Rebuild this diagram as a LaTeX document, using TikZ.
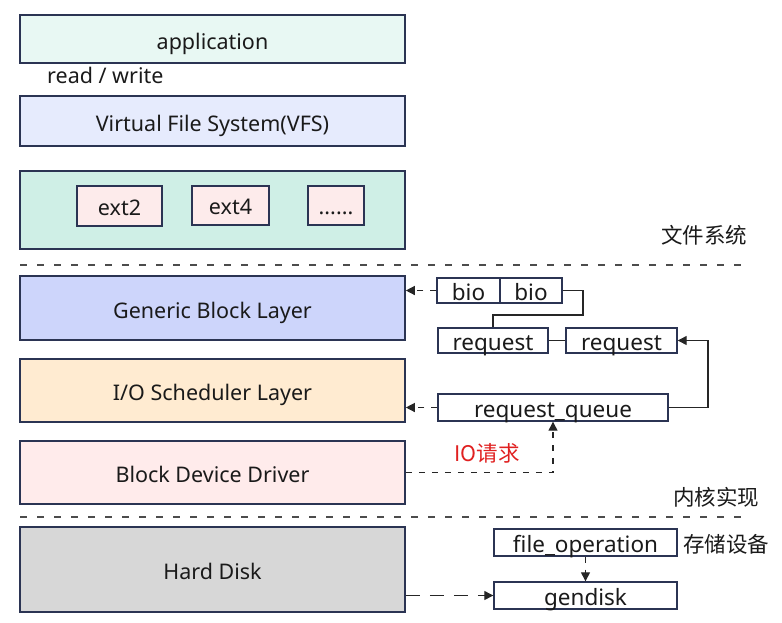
\documentclass[tikz,border=0pt]{standalone}
\usepackage{fontspec}
\setmainfont{Noto Sans}
\newfontfamily\cjk{Noto Sans CJK SC}
\usetikzlibrary{arrows.meta,calc}
\definecolor{edgec}{HTML}{2B3453}
\definecolor{appc}{HTML}{E8F8F3}
\definecolor{vfsc}{HTML}{E6EBFD}
\definecolor{fsc}{HTML}{CFEFE6}
\definecolor{extc}{HTML}{FDEBEB}
\definecolor{gblc}{HTML}{CDD5FB}
\definecolor{iosc}{HTML}{FFEBD1}
\definecolor{bddc}{HTML}{FFEBEB}
\definecolor{hdc}{HTML}{D7D7D7}
\definecolor{redc}{HTML}{E02020}
\definecolor{txtc}{HTML}{1A1A1A}
\tikzset{
  layer/.style={draw=edgec, line width=1.6pt, inner sep=0pt, minimum width=385pt, text=txtc,
    text height=20pt, text depth=0pt, font=\fontsize{21.5}{24}\selectfont},
  small/.style={draw=edgec, line width=1.4pt, inner sep=0pt, fill=white, text=txtc,
    text height=20pt, text depth=0pt, font=\fontsize{22.5}{25}\selectfont},
  extbox/.style={small, text height=18pt, font=\fontsize{21.5}{24}\selectfont},
  lbl/.style={inner sep=0pt, text=txtc, font=\fontsize{21.5}{24}\selectfont},
  conn/.style={draw=black!85, line width=1.3pt},
  dconn/.style={conn, dash pattern=on 6pt off 7pt},
  arr/.style={-{Triangle[length=9pt,width=9pt]}},
  sep/.style={draw=black!70, line width=1.4pt, dash pattern=on 7pt off 10pt}
}
\begin{document}
\begin{tikzpicture}[x=1pt,y=-1pt]
\useasboundingbox (0,0) rectangle (782,622);
% layers
\node[layer, fill=appc, minimum height=48pt] (app) at (212.5,39) {application};
\node[lbl, anchor=base west] (rw) at (47,83) {read / write};
\node[layer, fill=vfsc, minimum height=50pt] (vfs) at (212.5,121) {Virtual File System(VFS)};
\node[layer, fill=fsc, minimum height=78pt] (fs) at (212.5,210) {};
\node[extbox, fill=extc, minimum width=85pt, minimum height=40pt] (ext2) at (119.5,206) {ext2};
\node[extbox, fill=extc, minimum width=77pt, minimum height=39pt] (ext4) at (230.5,205.5) {ext4};
\node[extbox, fill=extc, minimum width=56pt, minimum height=39pt] (dots) at (336,205.5) {......};
\node[lbl] (fstext) at (704,235) {\cjk 文件系统};
\draw[sep] (20,265) -- (748,265);
\node[layer, fill=gblc, minimum height=64pt] (gbl) at (212.5,308) {Generic Block Layer};
\node[layer, fill=iosc, minimum height=63pt] (ios) at (212.5,390.5) {I/O Scheduler Layer};
\node[layer, fill=bddc, minimum height=63pt] (bdd) at (212.5,472.5) {Block Device Driver};
\node[lbl] (kernel) at (716,497) {\cjk 内核实现};
\draw[sep] (20,517) -- (748,517);
\node[layer, fill=hdc, minimum height=85pt] (hd) at (212.5,569.5) {Hard Disk};
% right side structures
\node[small, minimum width=63pt, minimum height=25pt] (bio1) at (468.5,290.5) {bio};
\node[small, minimum width=62pt, minimum height=25pt] (bio2) at (531,290.5) {bio};
\node[small, minimum width=110pt, minimum height=25pt] (req1) at (493,340.5) {request};
\node[small, minimum width=111pt, minimum height=25pt] (req2) at (621.5,340.5) {request};
\node[small, minimum width=230pt, minimum height=27pt] (rq) at (553,407.5) {request\_queue};
\node[lbl, text=redc] (io) at (487,453) {\cjk IO请求};
\node[small, minimum width=183pt, minimum height=27pt] (fop) at (585.5,542.5) {file\_operation};
\node[lbl] (store) at (726,544) {\cjk 存储设备};
\node[small, minimum width=183pt, minimum height=27pt] (gd) at (585.5,595.5) {gendisk};
% connectors
\draw[dconn, arr] (bio1.west) -- (bio1.west -| gbl.east);
\draw[conn] (bio2.east) -| (583,315) -| (req1.north);
\draw[conn] (req1.east) -- (req2.west);
\draw[conn, arr] (rq.east) -- (708,407.5) |- (req2.east);
\draw[dconn, arr] (rq.west) -- (rq.west -| ios.east);
\draw[dconn, arr] (bdd.east) -| (rq.south);
\draw[dconn, arr] (fop.south) -- (gd.north);
\draw[conn, dash pattern=on 14pt off 10pt, arr] (hd.east |- gd.west) -- (gd.west);
\end{tikzpicture}
\end{document}
